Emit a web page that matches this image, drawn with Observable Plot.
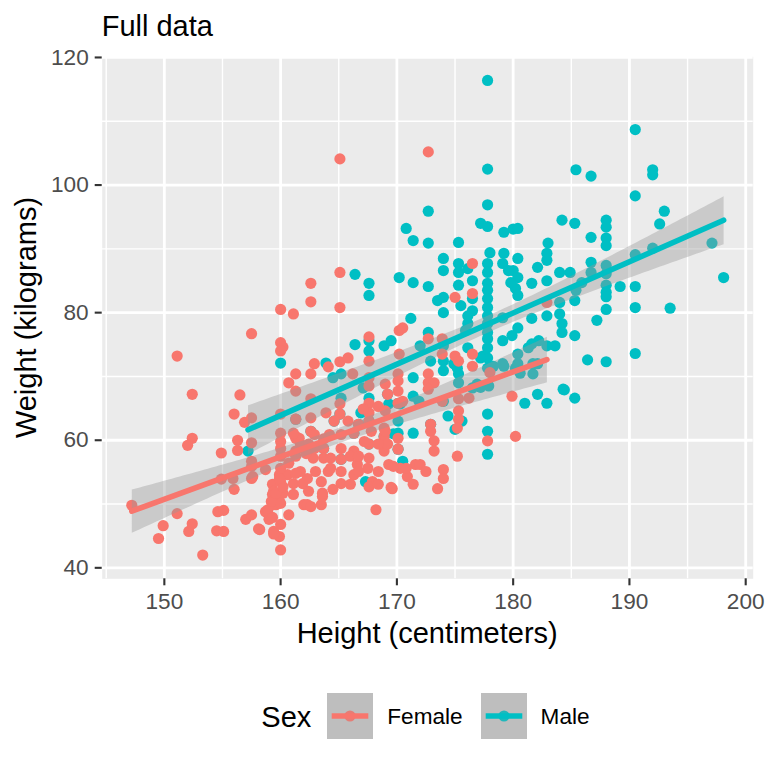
<!DOCTYPE html>
<html><head><meta charset="utf-8">
<script src="https://cdn.jsdelivr.net/npm/d3@7"></script>
<script src="https://cdn.jsdelivr.net/npm/@observablehq/plot@0.6"></script>
<style>
body{margin:0;background:#fff;}
#root{position:relative;width:768px;height:768px;overflow:hidden;background:#fff;font-family:"Liberation Sans",Arial,Helvetica,sans-serif;}
#root svg.plot{position:absolute;left:0;top:0;}
.t{position:absolute;line-height:1;white-space:nowrap;color:#000;}
</style></head><body><div id="root"></div>
<script>
const sexes = ["Female", "Male"];
const sexColors = ["#F8766D", "#00BFC4"];
const titleText = "Full data";
const xLabel = "Height (centimeters)";
const yLabel = "Weight (kilograms)";
const legendTitle = "Sex";

const femaleHeight = [
147.2,149.5,149.9,151.1,151.1,152.4,152.4,152.0,152.1,152.4,
153.3,154.6,155.1,154.5,155.1,157.0,157.5,158.2,158.7,159.0,
159.4,159.9,160.0,159.3,159.9,160.0,160.7,159.3,159.3,160.2,
159.9,160.6,161.1,161.1,161.9,162.0,160.0,161.1,157.5,160.0,
160.2,160.0,156.5,156.0,156.9,157.5,156.3,156.3,157.5,154.9,
154.9,155.9,156.0,157.5,157.5,158.7,161.3,160.7,161.3,160.0,
161.3,161.3,160.0,160.0,160.0,161.3,161.7,165.1,172.7,165.1,
162.6,162.6,165.1,167.6,170.2,162.9,164.1,165.1,165.8,162.6,
166.2,167.6,167.6,169.0,170.1,162.6,165.1,165.1,167.6,167.6,
167.6,169.2,170.1,170.1,168.9,168.9,166.3,166.7,164.6,164.2,
162.6,162.6,161.3,161.3,163.7,163.7,162.8,165.2,165.2,166.3,
166.6,167.6,167.6,168.9,169.3,170.3,170.9,171.4,170.1,170.1,
171.6,169.6,168.2,167.9,167.6,166.3,165.2,165.2,164.1,163.5,
163.6,162.3,162.4,162.3,160.0,160.0,159.4,159.6,158.9,157.6,
157.5,160.0,176.5,176.5,175.0,182.9,172.7,173.9,173.9,175.0,
175.3,176.5,176.5,178.0,172.7,172.7,173.2,172.7,173.9,175.3,
176.2,175.3,175.3,175.2,179.9,180.2,177.8,175.2,172.9,172.9,
173.2,173.2,172.0,172.5,174.0,170.8,170.5,170.5,170.2,174.0,
173.5,159.4,158.1,159.3,160.0,159.2,159.6,160.2,159.9,163.5,
162.6,163.6,164.5,166.0,168.4,169.5,167.5,168.4,169.7,166.7,
166.0,166.7,169.2,168.4,167.2,165.2,163.7,162.9,162.9,161.6,
162.2,164.3,164.3,163.0,161.7,161.3,160.7,162.4,161.1,163.9,
165.8,167.1,168.4,169.0,169.0,167.8,167.6,170.1
];
const femaleWeight = [
49.8,44.6,46.6,48.5,73.2,67.2,60.3,59.2,45.7,46.9,
42.0,48.8,49.0,45.8,45.7,47.6,48.3,46.0,48.8,47.6,
45.7,44.9,42.8,49.9,50.4,46.8,48.3,51.5,53.1,51.7,
54.6,54.6,51.5,53.2,53.2,49.9,80.5,79.8,76.7,75.3,
74.6,74.0,67.1,64.1,62.8,63.5,60.0,58.4,59.6,58.0,
53.9,54.0,52.3,55.9,54.0,55.4,70.4,69.0,67.7,64.1,
63.3,60.6,59.8,58.7,57.5,57.5,59.4,104.1,105.2,86.3,
84.6,81.7,80.8,76.2,77.2,72.0,71.5,72.3,72.9,70.4,
70.4,69.8,68.5,68.8,69.3,66.5,65.7,64.1,65.8,64.3,
63.0,67.2,67.7,65.8,61.9,60.6,61.1,62.5,63.0,60.9,
63.5,61.4,60.3,58.3,58.7,57.2,57.2,58.7,57.0,58.3,
56.2,59.4,57.2,58.3,56.2,55.6,54.3,53.1,58.6,60.3,
56.2,52.4,49.1,53.5,52.7,54.6,55.1,53.2,55.1,53.5,
51.2,54.0,52.0,49.9,55.6,53.5,52.0,49.9,49.1,54.3,
56.7,61.1,87.7,83.0,82.4,81.6,75.9,75.9,73.5,73.2,
72.4,73.5,71.6,70.6,70.4,69.0,69.0,68.0,66.1,66.5,
66.6,64.6,63.3,61.9,66.9,60.6,59.9,57.5,62.5,61.4,
59.9,58.3,56.2,55.1,55.4,55.6,66.1,77.6,73.5,54.0,
52.4,45.3,46.1,47.9,50.1,50.4,51.7,52.7,54.0,49.9,
49.6,51.7,52.3,53.1,53.1,52.6,55.6,55.1,55.9,55.1,
57.5,57.5,59.4,59.4,59.8,60.9,60.2,60.9,58.7,60.3,
57.9,57.2,55.6,55.1,55.1,54.8,56.4,59.4,61.1,64.3,
63.0,64.9,65.3,64.6,61.4,61.4,72.4,70.4
];
// visible male points, plus estimated males hidden under the female points (last row)
const maleHeight = [
157.2,160.0,166.4,167.6,167.6,170.2,171.4,171.2,166.4,167.6,
167.6,168.9,169.5,163.9,164.5,165.2,167.1,167.6,171.4,171.4,
169.3,170.3,165.2,166.9,170.1,170.1,171.4,170.5,167.3,177.8,
172.7,170.8,171.4,172.7,175.3,177.2,177.8,179.2,180.0,180.4,
184.2,185.3,183.0,182.9,182.9,182.1,184.0,184.9,182.9,181.6,
180.4,180.0,180.4,180.2,180.4,179.2,179.1,179.6,179.8,178.0,
177.8,177.8,177.8,177.8,177.8,177.8,177.8,177.8,177.8,177.8,
177.8,177.8,177.8,177.8,177.8,177.8,174.0,174.0,175.3,175.3,
176.1,176.5,175.3,176.5,174.0,173.5,175.5,176.5,174.0,172.7,
176.1,176.1,175.9,179.1,179.1,180.4,179.9,181.6,182.9,184.0,
184.0,184.2,185.3,185.3,181.6,182.2,182.9,183.6,181.3,180.4,
180.4,179.2,178.3,177.4,176.1,172.7,172.0,174.0,174.0,174.9,
175.3,175.3,176.9,176.5,177.9,182.1,182.1,181.0,182.9,184.3,
185.3,171.9,174.0,174.4,175.0,175.6,172.9,174.0,177.2,175.2,
177.2,179.1,180.2,181.7,181.7,180.6,190.5,185.4,186.7,192.0,
192.0,190.5,193.0,192.6,188.0,188.0,186.7,188.0,188.0,190.5,
192.0,197.1,198.1,186.7,186.7,188.0,188.0,185.9,185.4,188.0,
188.0,188.0,189.2,190.5,190.5,193.5,188.0,187.2,184.2,186.4,
188.0,190.5,177.8,177.8,169.7,184.4,
162.6,163.7,165.1,165.2,166.3,167.6,167.6,168.9,170.1,172.9,
164.6,169.2,166.7,161.3,170.1
];
const maleWeight = [
58.3,72.1,86.0,84.6,82.7,85.5,84.7,79.1,75.0,75.6,
74.0,74.8,75.6,72.1,69.8,70.4,68.2,66.6,69.8,66.9,
65.7,65.7,66.6,64.3,63.0,61.1,61.1,56.7,53.5,96.9,
95.9,93.2,91.3,90.9,91.0,94.0,93.5,92.6,93.1,93.2,
94.5,94.0,90.9,89.3,88.2,87.1,86.3,86.3,85.0,84.6,
88.5,86.6,85.5,83.8,82.7,89.3,87.7,86.6,84.7,89.4,
87.7,86.3,84.6,83.5,82.2,80.8,79.5,78.3,76.9,75.9,
74.5,72.9,71.3,64.1,61.4,57.8,88.5,86.6,87.7,86.3,
86.9,85.0,84.3,82.2,82.4,81.9,81.1,80.3,80.0,84.1,
79.5,78.3,77.2,79.2,75.6,77.6,76.4,79.1,79.5,79.8,
81.6,76.9,76.4,81.9,75.1,75.6,74.8,74.8,74.5,73.5,
72.0,71.6,71.6,73.2,74.5,76.9,74.8,72.4,70.9,72.0,
70.4,69.0,68.8,68.2,68.5,72.0,67.2,65.8,65.8,68.0,
66.6,66.1,66.1,63.8,61.7,63.0,72.4,74.8,72.9,71.3,
68.3,72.0,71.3,72.0,70.4,70.5,108.7,102.4,101.4,102.4,
101.6,98.3,95.9,93.9,94.5,93.4,91.8,91.7,90.5,89.1,
90.1,90.9,85.5,87.9,86.3,87.4,86.1,84.7,83.5,84.3,
83.2,82.5,84.1,84.1,80.8,80.7,80.5,78.8,78.3,72.6,
72.3,73.6,116.4,102.5,61.0,67.9,
61.4,58.7,64.1,57.0,61.1,63.0,59.4,60.6,58.6,62.5,
63.0,67.2,62.5,63.3,65.8
];

const xTicks = [150, 160, 170, 180, 190, 200];
const xMinorTicks = [145, 155, 165, 175, 185, 195];
const yTicks = [40, 60, 80, 100, 120];
const yMinorTicks = [50, 70, 90, 110];

// table: males first, females drawn on top
const data = [];
maleHeight.forEach((h, i) => data.push({sex: "Male", height: h, weight: maleWeight[i]}));
femaleHeight.forEach((h, i) => data.push({sex: "Female", height: h, weight: femaleWeight[i]}));

function expand(ext) { const r = ext[1] - ext[0]; return [ext[0] - 0.05 * r, ext[1] + 0.05 * r]; }
const xDomain = expand(d3.extent(data, d => d.height));
const yDomain = expand(d3.extent(data, d => d.weight));

const FONT = '"Liberation Sans", Arial, Helvetica, sans-serif';

const plot = Plot.plot({
  width: 768,
  height: 768,
  marginTop: 56.2,
  marginBottom: 189.7,
  marginLeft: 101.7,
  marginRight: 15.3,
  style: {fontFamily: FONT, background: "transparent"},
  x: {domain: xDomain, label: null},
  y: {domain: yDomain, label: null},
  color: {domain: sexes, range: sexColors},
  marks: [
    Plot.frame({fill: "#EBEBEB", stroke: null}),
    Plot.gridX(xMinorTicks, {stroke: "#FFFFFF", strokeOpacity: 1, strokeWidth: 1.4}),
    Plot.gridY(yMinorTicks, {stroke: "#FFFFFF", strokeOpacity: 1, strokeWidth: 1.4}),
    Plot.gridX(xTicks, {stroke: "#FFFFFF", strokeOpacity: 1, strokeWidth: 2.8}),
    Plot.gridY(yTicks, {stroke: "#FFFFFF", strokeOpacity: 1, strokeWidth: 2.8}),
    Plot.dot(data, {x: "height", y: "weight", fill: "sex", r: 5.6}),
    Plot.linearRegressionY(data, {x: "height", y: "weight", z: "sex", stroke: "sex",
      fill: "#999999", fillOpacity: 0.4, strokeWidth: 5.6, ci: 0.95}),
    Plot.axisX(xTicks, {tickSize: 7, tickPadding: 7, fontSize: 22.6, stroke: "#333333",
      strokeWidth: 2.1, fill: "#4D4D4D", tickFormat: d => String(d)}),
    Plot.axisY(yTicks, {tickSize: 7, tickPadding: 6.5, fontSize: 22.6, stroke: "#333333",
      strokeWidth: 2.1, fill: "#4D4D4D", tickFormat: d => String(d)})
  ]
});

const root = document.getElementById("root");
root.appendChild(plot);

function addText(txt, size, left, top, extra) {
  const d = document.createElement("div");
  d.className = "t";
  d.textContent = txt;
  d.style.fontSize = size + "px";
  d.style.left = left + "px";
  d.style.top = top + "px";
  if (extra) Object.assign(d.style, extra);
  root.appendChild(d);
  return d;
}
// title
addText(titleText, 29, 101.7, 11.5);
// x axis title, centred on panel
addText(xLabel, 29, 101.7, 618.5, {width: "651px", textAlign: "center"});
// y axis title, rotated
addText(yLabel, 29, 26 - 200, 317.25 - 14.5, {width: "400px", height: "29px", textAlign: "center", transform: "rotate(-90deg)"});

// legend
addText(legendTitle, 29, 261.3, 702.8);
const keyLeft = [327, 481];
const labelLeft = [387.3, 540.6];
const keyPointColors = ["#E57D76", "#1FB8BC"];
sexes.forEach((s, i) => {
  const ns = "http://www.w3.org/2000/svg";
  const svg = document.createElementNS(ns, "svg");
  svg.setAttribute("width", 46); svg.setAttribute("height", 46);
  svg.style.position = "absolute"; svg.style.left = keyLeft[i] + "px"; svg.style.top = "692.7px";
  const r = document.createElementNS(ns, "rect");
  r.setAttribute("width", 46); r.setAttribute("height", 46); r.setAttribute("fill", "#BEBEBE");
  svg.appendChild(r);
  const c = document.createElementNS(ns, "circle");
  c.setAttribute("cx", 23); c.setAttribute("cy", 23); c.setAttribute("r", 5.6); c.setAttribute("fill", keyPointColors[i]);
  svg.appendChild(c);
  const l = document.createElementNS(ns, "line");
  l.setAttribute("x1", 4.7); l.setAttribute("x2", 41.3); l.setAttribute("y1", 23); l.setAttribute("y2", 23);
  l.setAttribute("stroke", sexColors[i]); l.setAttribute("stroke-width", 5.6);
  svg.appendChild(l);
  root.appendChild(svg);
  addText(s, 22.6, labelLeft[i], 705.9);
});
</script></body></html>
